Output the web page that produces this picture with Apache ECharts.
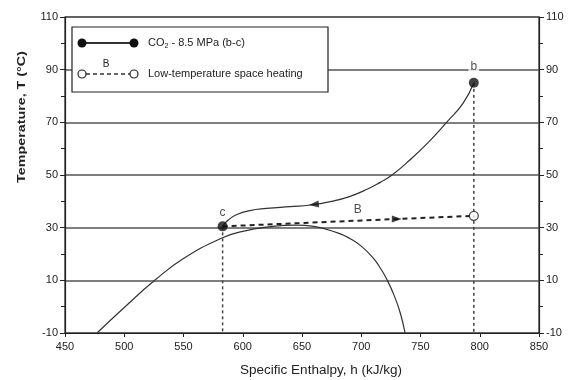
<!DOCTYPE html>
<html>
<head>
<meta charset="utf-8">
<script src="https://cdn.jsdelivr.net/npm/echarts@6/dist/echarts.min.js"></script>
<style>html,body{margin:0;padding:0;background:#fff}#c{width:572px;height:380px}</style>
</head>
<body>
<div id="c"></div>
<script>
// Saturation dome
const domeH = [477,500,526,550,583,600,620,645,660,680,690,700,710,717,722,728,733,737];
const domeT = [-10,-0.3,10.1,18.3,26.2,28.6,30.2,31,30.5,28,26,23,18.5,14,10,4,-2.5,-10];
// CO2 8.5 MPa gas cooling b -> c
const co2H = [795,786,772,757,741,726,716,705,690,675,657,640,620,606,595,588,583];
const co2T = [85,77.3,70,62.6,55.7,50,47.2,44.6,41.8,40,38.6,38,37.3,36.5,35,33,30.5];
// Low-temperature space heating B
const heatH = [583,795];
const heatT = [30.5,34.5];
// state points
const pointB = [795,85];
const pointC = [583,30.5];
const heatOut = [795,34.5];
// arrows
const arrowCO2 = [660,38.8];
const arrowHeat = [730,33.3];
// labels
const labelPts = [{name:'b',h:795,T:91},{name:'c',h:583,T:35.8},{name:'B',h:697,T:37}];

const zip = (a,b)=>a.map((v,i)=>[v,b[i]]);
const font = '"Liberation Sans", Arial, sans-serif';
const chart = echarts.init(document.getElementById('c'));
const yAxisCommon = {
  type:'value', min:-10, max:110, interval:20,
  axisLine:{show:true,lineStyle:{color:'#222',width:1.2}},
  axisTick:{show:true,length:5,lineStyle:{color:'#222'}},
  minorTick:{show:true,splitNumber:2,length:4,lineStyle:{color:'#222'}},
  axisLabel:{color:'#222',fontSize:11,fontFamily:font,margin:7},
};
chart.setOption({
  animation:false,
  grid:{left:65,right:33,top:17,bottom:47,show:true,borderColor:'#222',borderWidth:1.2},
  xAxis:{
    type:'value', min:450, max:850, interval:50,
    axisLine:{show:true,onZero:false,lineStyle:{color:'#222',width:1.2}},
    axisTick:{show:true,length:4,lineStyle:{color:'#222'}},
    axisLabel:{color:'#222',fontSize:11,fontFamily:font,margin:8},
    splitLine:{show:false}
  },
  yAxis:[
    Object.assign({},yAxisCommon,{position:'left',
      splitLine:{show:true,lineStyle:{color:'#555',width:1.6}}}),
    Object.assign({},yAxisCommon,{position:'right',splitLine:{show:false}})
  ],
  series:[
    {type:'line',data:zip(domeH,domeT),smooth:0.5,symbol:'none',
     lineStyle:{color:'#333',width:1.2},z:3},
    {type:'line',data:zip(co2H,co2T),smooth:0.5,symbol:'none',
     lineStyle:{color:'#333',width:1.2},z:3},
    {type:'line',data:zip(heatH,heatT),symbol:'none',
     lineStyle:{color:'#222',width:2,type:[5,4]},z:4},
    {type:'line',data:[[pointC[0],pointC[1]],[pointC[0],-10]],symbol:'none',
     lineStyle:{color:'#444',width:1.5,type:[3,3]},z:2},
    {type:'line',data:[[pointB[0],pointB[1]],[pointB[0],-10]],symbol:'none',
     lineStyle:{color:'#444',width:1.5,type:[3,3]},z:2},
    {type:'scatter',data:[pointB,pointC],symbol:'circle',symbolSize:10,
     itemStyle:{color:'#111'},z:6},
    {type:'scatter',data:[heatOut],symbol:'circle',symbolSize:9,
     itemStyle:{color:'#fff',borderColor:'#222',borderWidth:1.3},z:6},
    {type:'scatter',data:[arrowCO2],symbol:'triangle',symbolSize:[7,10],symbolRotate:96,
     itemStyle:{color:'#111'},z:6},
    {type:'scatter',data:[arrowHeat],symbol:'triangle',symbolSize:[7,10],symbolRotate:-91,
     itemStyle:{color:'#111'},z:6},
    {type:'scatter',data:labelPts.map(p=>({value:[p.h,p.T],name:p.name})),symbolSize:0,z:7,
     label:{show:true,position:'inside',formatter:'{b}',color:'#222',fontSize:12,fontFamily:font,
       backgroundColor:'#fff',padding:[0,2]}}
  ],
  graphic:[
    {type:'text',x:22,y:117,rotation:Math.PI/2,scaleX:1.3,
     style:{text:'Temperature, T (\u00B0C)',font:'bold 11px '+font,fill:'#222',
       align:'center',verticalAlign:'middle'}},
    {type:'text',x:321,y:370,
     style:{text:'Specific Enthalpy, h (kJ/kg)',font:'13.5px '+font,fill:'#222',
       align:'center',verticalAlign:'middle'}},
    {type:'rect',shape:{x:72,y:27,width:256,height:65},
     style:{fill:'#fff',stroke:'#222',lineWidth:1.2},z:10},
    {type:'line',shape:{x1:82,y1:43,x2:134,y2:43},style:{stroke:'#333',lineWidth:2},z:11},
    {type:'circle',shape:{cx:82,cy:43,r:4.5},style:{fill:'#111'},z:12},
    {type:'circle',shape:{cx:134,cy:43,r:4.5},style:{fill:'#111'},z:12},
    {type:'text',x:148,y:43,z:12,
     style:{rich:{a:{fontSize:11,fontFamily:font,fill:'#222'},s:{fontSize:7,fontFamily:font,fill:'#222',verticalAlign:'bottom',padding:[6,0,0,0]}},
       text:'{a|CO}{s|2}{a| - 8.5 MPa (b-c)}',verticalAlign:'middle'}},
    {type:'line',shape:{x1:86,y1:74,x2:130,y2:74},style:{stroke:'#333',lineWidth:1.5,lineDash:[4,3]},z:11},
    {type:'circle',shape:{cx:82,cy:74,r:4},style:{fill:'#fff',stroke:'#222',lineWidth:1.2},z:12},
    {type:'circle',shape:{cx:134,cy:74,r:4},style:{fill:'#fff',stroke:'#222',lineWidth:1.2},z:12},
    {type:'text',x:106,y:64,z:12,
     style:{text:'B',font:'10px '+font,fill:'#222',align:'center',verticalAlign:'middle'}},
    {type:'text',x:148,y:74,z:12,
     style:{text:'Low-temperature space heating',font:'11px '+font,fill:'#222',verticalAlign:'middle'}}
  ]
});
</script>
</body>
</html>
